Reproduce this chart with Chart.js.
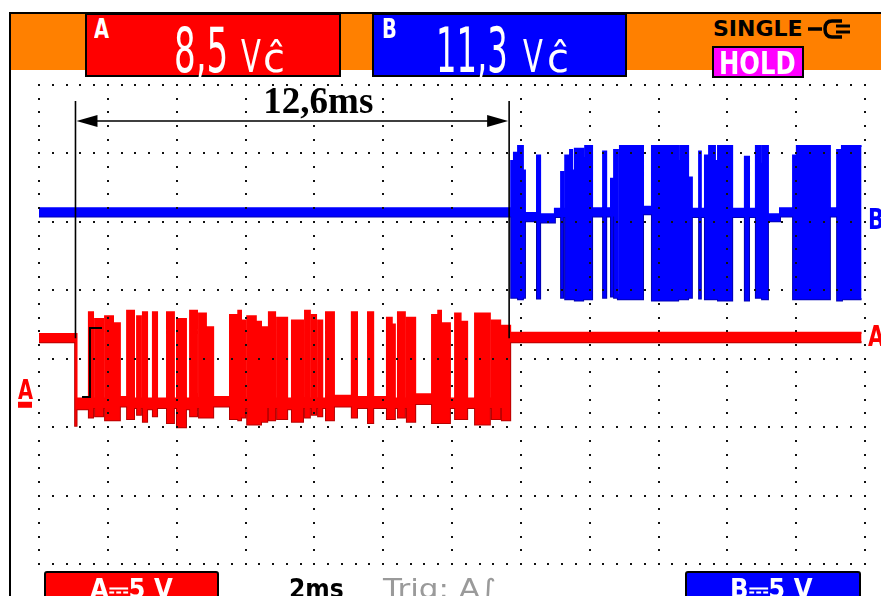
<!DOCTYPE html>
<html>
<head>
<meta charset="utf-8">
<script src="https://cdn.jsdelivr.net/npm/chart.js@4.4.1/dist/chart.umd.min.js"></script>
<style>
  html, body { margin: 0; padding: 0; background: #fff; }
  #wrap { position: relative; width: 881px; height: 596px; overflow: hidden; font-family: "DejaVu Sans", sans-serif; }
  #scope { position: absolute; left: 0; top: 0; }
  .frame { position: absolute; left: 9px; top: 12px; width: 880px; height: 600px; border-left: 2px solid #000; border-top: 2px solid #000; }
  .band { position: absolute; left: 11px; top: 14px; width: 870px; height: 56px; background: #ff8000; }
  .box { position: absolute; box-sizing: border-box; border: 2px solid #000; }
  .t { position: absolute; white-space: nowrap; line-height: 1; transform-origin: 0 0; }
  .w { color: #fff; }
</style>
</head>
<body>
<div id="wrap">
  <canvas id="scope" width="881" height="596"></canvas>

  <!-- header: readouts and acquisition state -->
  <div class="frame"></div>
  <div class="band"></div>
  <div class="box" style="left:85px;top:13px;width:256px;height:64px;background:#ff0000;"></div>
  <div class="box" style="left:372px;top:13px;width:255px;height:64px;background:#0000ff;"></div>
  <span class="t w" style="left:94px;top:15px;font-size:27px;font-weight:bold;transform:scaleX(0.72);">A</span>
  <span class="t w" style="left:174px;top:20px;font-size:62px;transform:scaleX(0.55);">8,5</span>
  <span class="t w" style="left:241px;top:35px;font-size:44px;transform:scaleX(0.66);">V</span>
  <span class="t w" style="left:263px;top:38px;font-size:40px;">ĉ</span>
  <span class="t w" style="left:382px;top:15px;font-size:27px;font-weight:bold;transform:scaleX(0.72);">B</span>
  <span class="t w" style="left:436px;top:20px;font-size:62px;transform:scaleX(0.52);">11,3</span>
  <span class="t w" style="left:523px;top:35px;font-size:44px;transform:scaleX(0.66);">V</span>
  <span class="t w" style="left:547px;top:38px;font-size:40px;">ĉ</span>
  <span class="t" style="left:713px;top:18px;font-size:22px;font-weight:bold;color:#000;">SINGLE</span>
  <svg style="position:absolute;left:806px;top:18px;" width="58" height="22" viewBox="0 0 58 22">
    <line x1="2" y1="11" x2="16" y2="11" stroke="#000" stroke-width="3.5"/>
    <path d="M36 3 H26 Q19 3 19 11 Q19 19 26 19 H36" fill="none" stroke="#000" stroke-width="3.5"/>
    <line x1="30" y1="8" x2="44" y2="8" stroke="#000" stroke-width="3"/>
    <line x1="30" y1="14" x2="44" y2="14" stroke="#000" stroke-width="3"/>
  </svg>
  <div class="box" style="left:712px;top:46px;width:92px;height:32px;background:#ff00ff;"></div>
  <span class="t w" style="left:719px;top:47px;font-size:32px;font-weight:bold;transform:scaleX(0.76);">HOLD</span>

  <!-- footer: channel sensitivities, timebase, trigger -->
  <div class="box" style="left:44px;top:571px;width:175px;height:40px;background:#ff0000;border-radius:3px;"></div>
  <span class="t w" style="left:90px;top:575px;font-size:27px;font-weight:bold;transform:scaleX(0.9);">A⎓5 V</span>
  <span class="t" style="left:289px;top:575px;font-size:27px;font-weight:bold;color:#000;transform:scaleX(0.87);">2ms</span>
  <span class="t" style="left:383px;top:575px;font-size:27px;color:#9a9a9a;transform:scaleX(1.15);">Trig: A∫</span>
  <div class="box" style="left:685px;top:571px;width:176px;height:40px;background:#0000ff;border-radius:3px;"></div>
  <span class="t w" style="left:730px;top:575px;font-size:27px;font-weight:bold;transform:scaleX(0.9);">B⎓5 V</span>
</div>

<script>
// Screen geometry of the scope: 12 x 7 divisions
const msPerDiv = 2;
const voltsPerDiv = 5;
const divX = 12;
const divY = 7;
// Voltage shown at the bottom edge of the screen for each channel (sets the trace position)
const screenBottomA = -12;
const screenBottomB = -19.25;

// Channel A (red): time of each change (ms) with the upper and lower edge of the trace (V)
const redT  = [0.00, 1.05, 1.09, 1.45, 1.57, 1.63, 1.86, 1.92, 2.15, 2.35, 2.56, 2.76, 2.85, 2.96, 3.02, 3.14,
               3.31, 3.43, 3.72, 3.92, 4.01, 4.27, 4.39, 4.59, 4.65, 4.85, 5.06, 5.55, 5.79, 5.87, 5.99, 6.05,
               6.30, 6.45, 6.63, 6.68, 6.86, 6.92, 7.21, 7.35, 7.67, 7.73, 7.87, 7.93, 8.05, 8.11, 8.23, 8.34,
               8.57, 9.09, 9.24, 9.56, 9.71, 10.11, 10.25, 10.34, 10.43, 10.63, 10.69, 10.93, 11.42, 11.60,
               11.68, 11.94, 12.09, 12.25, 12.44, 12.67, 13.10, 13.16, 13.40, 13.45, 13.69, 23.90];
const redHi = [4.8, 4.8, 0.1, 6.4, 0.1, 5.9, 0.1, 6.1, 5.6, 0.2, 6.5, 0.1, 6.1, 0.1, 6.4, 0.1,
               6.4, 0.1, 6.4, 0.1, 5.9, 0.1, 6.5, 0.1, 6.3, 5.3, 0.2, 6.2, 6.5, 5.8, 0.1, 6.1,
               5.7, 5.3, 0.1, 6.4, 0.1, 6.0, 0.1, 5.8, 0.1, 6.5, 0.1, 6.2, 0.1, 5.8, 0.1, 6.4,
               0.3, 6.4, 0.2, 6.4, 0.2, 6.0, 5.5, 0.1, 6.4, 0.1, 6.0, 0.4, 6.2, 6.5,
               5.6, 0.1, 6.3, 5.7, 0.1, 6.3, 0.1, 5.8, 0.1, 5.4, 4.9, 4.9];
const redLo = [4.2, -1.9, -0.7, -1.3, -0.6, -1.2, -0.6, -1.5, -1.5, -0.5, -1.4, -0.6, -1.1, -0.6, -1.6, -0.7,
               -1.2, -0.6, -1.7, -0.6, -2.0, -0.7, -1.2, -0.6, -1.3, -1.3, -0.5, -1.4, -1.5, -1.3, -0.6, -1.8,
               -1.8, -1.6, -0.6, -1.5, -0.6, -1.4, -0.7, -1.6, -0.6, -1.3, -0.6, -1.1, -0.6, -1.2, -0.6, -1.5,
               -0.5, -1.3, -0.6, -1.7, -0.6, -1.4, -1.4, -0.6, -1.3, -0.6, -1.6, -0.3, -1.7, -1.7,
               -1.7, -0.6, -1.4, -1.4, -0.6, -1.8, -0.6, -1.4, -0.6, -1.5, 4.2, 4.2];

// Channel B (blue): time of each change (ms) with the upper and lower edge of the trace (V)
const blueT  = [0.00, 13.72, 13.80, 13.92, 14.06, 14.12, 14.47, 14.56, 14.99, 15.17, 15.23, 15.29, 15.43, 15.49,
                15.57, 15.81, 15.87, 16.07, 16.39, 16.48, 16.62, 16.68, 16.71, 16.82, 16.88, 17.55, 17.81, 18.57,
                18.63, 18.86, 18.97, 19.18, 19.23, 19.35, 19.47, 19.64, 19.73, 20.14, 20.51, 20.63, 20.83, 20.95,
                21.01, 21.18, 21.53, 21.91, 22.02, 22.98, 23.19, 23.33, 23.90];
const blueHi = [6.75, 10.2, 10.8, 11.3, 9.5, 6.4, 10.6, 6.3, 6.7, 9.4, 6.7, 10.6, 11.0, 9.5,
                11.1, 10.4, 11.3, 6.75, 10.9, 6.75, 8.9, 6.75, 11.0, 0.4, 11.3, 6.85, 11.3, 10.2,
                11.3, 9.0, 6.7, 10.9, 6.7, 10.6, 11.3, 10.2, 11.3, 6.7, 10.5, 6.7, 11.3, 10.0,
                11.3, 6.3, 6.75, 10.6, 11.3, 6.75, 11.0, 11.3, 11.3];
const blueLo = [6.15, 0.2, 0.2, 0.1, 0.2, 5.8, 0.15, 5.7, 6.1, 0.2, 6.1, 0.1, 0.1, 0.1,
                0.0, 0.1, 0.1, 6.15, 0.2, 6.15, 0.3, 6.15, 0.2, 0.1, 0.1, 6.3, 0.0, 0.1,
                0.1, 0.2, 6.1, 0.15, 6.1, 0.1, 0.1, 0.1, 0.0, 6.1, 0.0, 6.1, 0.2, 0.2,
                0.1, 5.8, 6.15, 0.1, 0.1, 6.15, 0.0, 0.1, 0.1];

// Black reference step on channel A near the start of the frame (ms, V)
const refStepT = [1.25, 1.48, 1.83];
const refStepV = [0.2, 5.25, 5.25];

// Time cursors (ms)
const cursorTimes = [1.06, 13.66];

const pts = (t, v) => t.map((x, i) => ({ x, y: v[i] }));

// Dotted graticule, drawn over the traces like on the scope screen
const graticule = {
  id: 'graticule',
  afterDatasetsDraw(chart) {
    const { ctx, chartArea: a } = chart;
    const stepX = a.width / divX, stepY = a.height / divY;
    ctx.save();
    ctx.fillStyle = '#111';
    const dot = (x, y) => ctx.fillRect(Math.round(x) - 1, Math.round(y) - 1, 2, 2);
    for (let i = 0; i <= divX; i++) {
      for (let j = 0; j <= divY * 5; j++) dot(a.left + i * stepX, a.top + j * stepY / 5);
    }
    for (let j = 0; j <= divY; j++) {
      for (let i = 0; i <= divX * 5; i++) dot(a.left + i * stepX / 5, a.top + j * stepY);
    }
    ctx.restore();
  }
};

// Cursor pair with the measured interval, plus channel markers
const markers = {
  id: 'markers',
  afterDatasetsDraw(chart) {
    const { ctx, chartArea: a, scales } = chart;
    const x = scales.x, yA = scales.yA, yB = scales.yB;
    const x1 = x.getPixelForValue(cursorTimes[0]);
    const x2 = x.getPixelForValue(cursorTimes[1]);
    const top = a.top + 16;
    const arrowY = a.top + 36;
    const redIdle = yA.getPixelForValue((redHi[0] + redLo[0]) / 2);
    ctx.save();
    ctx.strokeStyle = '#000';
    ctx.fillStyle = '#000';
    ctx.lineWidth = 1.6;
    ctx.beginPath();
    ctx.moveTo(x1, top); ctx.lineTo(x1, redIdle);
    ctx.moveTo(x2, top); ctx.lineTo(x2, redIdle);
    ctx.moveTo(x1 + 10, arrowY); ctx.lineTo(x2 - 10, arrowY);
    ctx.stroke();
    // arrow heads
    ctx.beginPath();
    ctx.moveTo(x1 + 1, arrowY); ctx.lineTo(x1 + 22, arrowY - 6); ctx.lineTo(x1 + 22, arrowY + 6); ctx.closePath();
    ctx.moveTo(x2 - 1, arrowY); ctx.lineTo(x2 - 22, arrowY - 6); ctx.lineTo(x2 - 22, arrowY + 6); ctx.closePath();
    ctx.fill();
    // interval label
    const dt = (cursorTimes[1] - cursorTimes[0]).toFixed(1).replace('.', ',');
    ctx.font = 'bold 37px "Liberation Serif", serif';
    ctx.textAlign = 'center';
    ctx.textBaseline = 'alphabetic';
    ctx.fillText(dt + 'ms', (x1 + x2) / 2 + 26, a.top + 28);

    // channel identifiers at the right edge
    const label = (txt, color, px, py, sx) => {
      ctx.save();
      ctx.translate(px, py);
      ctx.scale(sx, 1);
      ctx.fillStyle = color;
      ctx.font = 'bold 28px "DejaVu Sans", sans-serif';
      ctx.textAlign = 'left';
      ctx.textBaseline = 'middle';
      ctx.fillText(txt, 0, 0);
      ctx.restore();
    };
    label('B', '#0000ff', a.right + 3, yB.getPixelForValue((blueHi[0] + blueLo[0]) / 2) + 9, 0.75);
    label('A', '#ff0000', a.right + 3, yA.getPixelForValue((redHi[0] + redLo[0]) / 2) + 1, 0.75);

    // channel A ground marker on the left edge
    const zeroA = yA.getPixelForValue(0);
    ctx.save();
    ctx.translate(18, zeroA - 1);
    ctx.scale(0.72, 1);
    ctx.fillStyle = '#ff0000';
    ctx.font = 'bold 27px "DejaVu Sans", sans-serif';
    ctx.textAlign = 'left';
    ctx.textBaseline = 'alphabetic';
    ctx.fillText('A', 0, 0);
    ctx.restore();
    ctx.fillStyle = '#ff0000';
    ctx.fillRect(18, zeroA + 2, 14, 6);
    ctx.restore();
  }
};

const trace = (data, axis, color, fill, width) => ({
  data, yAxisID: axis, borderColor: color, backgroundColor: color,
  borderWidth: width, stepped: true, fill, pointRadius: 0, tension: 0
});

new Chart(document.getElementById('scope'), {
  type: 'line',
  data: {
    datasets: [
      trace(pts(refStepT, refStepV), 'yA', '#000000', false, 2),
      trace(pts(redT, redHi), 'yA', '#ff0000', '+1', 2),
      trace(pts(redT, redLo), 'yA', '#b80000', false, 2),
      trace(pts(blueT, blueHi), 'yB', '#0000ff', '+1', 2),
      trace(pts(blueT, blueLo), 'yB', '#0000b4', false, 2)
    ]
  },
  options: {
    responsive: false,
    animation: false,
    devicePixelRatio: 1,
    layout: { padding: { left: 39, right: 16, top: 85, bottom: 32 } },
    plugins: { legend: { display: false }, tooltip: { enabled: false }, title: { display: false } },
    scales: {
      x: { type: 'linear', min: 0, max: divX * msPerDiv, display: false },
      yA: { type: 'linear', min: screenBottomA, max: screenBottomA + divY * voltsPerDiv, display: false },
      yB: { type: 'linear', min: screenBottomB, max: screenBottomB + divY * voltsPerDiv, display: false }
    }
  },
  plugins: [graticule, markers]
});
</script>
</body>
</html>
